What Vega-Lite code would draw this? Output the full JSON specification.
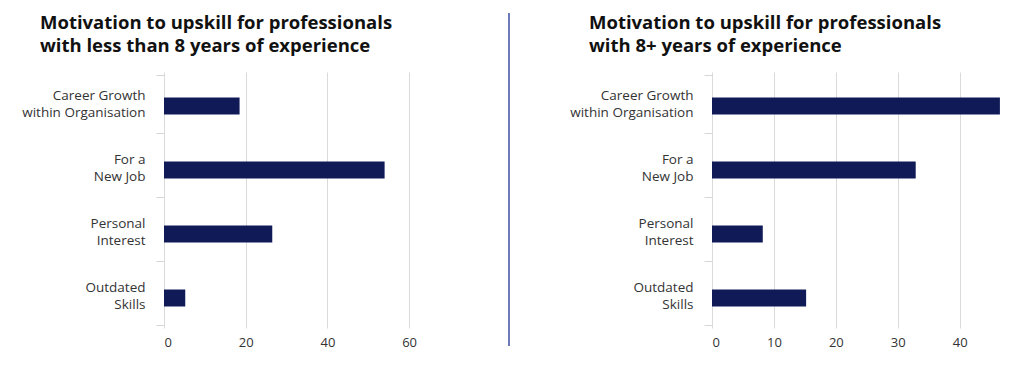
{
  "$schema": "https://vega.github.io/schema/vega-lite/v6.json",
  "padding": {"left": 14, "top": 12, "right": 5, "bottom": 5},
  "background": "white",
  "spacing": 9,
  "config": {
    "view": {"stroke": null},
    "title": {"font": "Open Sans", "fontSize": 18.5, "fontWeight": "bold", "color": "#111111", "lineHeight": 23, "anchor": "start", "frame": "bounds"}
  },
  "datasets": {
    "junior": [
      {"motivation": "Career Growth\nwithin Organisation", "percent": 18.5},
      {"motivation": "For a\nNew Job", "percent": 54},
      {"motivation": "Personal\nInterest", "percent": 26.5},
      {"motivation": "Outdated\nSkills", "percent": 5.2}
    ],
    "senior": [
      {"motivation": "Career Growth\nwithin Organisation", "percent": 46.5},
      {"motivation": "For a\nNew Job", "percent": 32.9},
      {"motivation": "Personal\nInterest", "percent": 8.2},
      {"motivation": "Outdated\nSkills", "percent": 15.2}
    ],
    "divider": [{"line": "divider"}]
  },
  "hconcat": [
    {
      "title": {"text": ["Motivation to upskill for professionals", "with less than 8 years of experience"], "dx": 26, "offset": 10},
      "data": {"name": "junior"},
      "width": 335,
      "height": 256,
      "mark": {"type": "bar", "size": 17, "color": "#0f1a57", "yOffset": 2},
      "encoding": {
        "y": {"field": "motivation", "type": "nominal", "sort": null, "title": null,
          "axis": {"domain": false, "ticks": true, "tickBand": "extent", "tickSize": 8, "tickColor": "#d6d6d6", "labelPadding": 11, "labelFont": "Open Sans", "labelFontSize": 13.5, "labelColor": "#333333", "labelLineHeight": 17, "labelOffset": -8.5, "labelExpr": "split(datum.label, '\\n')", "minExtent": 150, "maxExtent": 150}},
        "x": {"field": "percent", "type": "quantitative", "title": null, "scale": {"domain": [0, 82], "nice": false},
          "axis": {"values": [0, 20, 40, 60], "domain": false, "ticks": false, "grid": true, "gridColor": "#dadada", "labelPadding": 8, "labelFont": "Open Sans", "labelFontSize": 13, "labelColor": "#333333"}}
      }
    },
    {
      "data": {"name": "divider"},
      "width": 1,
      "height": 256,
      "mark": {"type": "rule", "color": "#3f4fa0", "strokeWidth": 1.5},
      "encoding": {"x": {"value": 0}, "y": {"value": -59}, "y2": {"value": 274}}
    },
    {
      "title": {"text": ["Motivation to upskill for professionals", "with 8+ years of experience"], "dx": 70, "offset": 10},
      "data": {"name": "senior"},
      "width": 291,
      "height": 256,
      "mark": {"type": "bar", "size": 17, "color": "#0f1a57", "yOffset": 2},
      "encoding": {
        "y": {"field": "motivation", "type": "nominal", "sort": null, "title": null,
          "axis": {"domain": false, "ticks": true, "tickBand": "extent", "tickSize": 8, "tickColor": "#d6d6d6", "labelPadding": 11, "labelFont": "Open Sans", "labelFontSize": 13.5, "labelColor": "#333333", "labelLineHeight": 17, "labelOffset": -8.5, "labelExpr": "split(datum.label, '\\n')", "minExtent": 193, "maxExtent": 193}},
        "x": {"field": "percent", "type": "quantitative", "title": null, "scale": {"domain": [0, 47], "nice": false},
          "axis": {"values": [0, 10, 20, 30, 40], "domain": false, "ticks": false, "grid": true, "gridColor": "#dadada", "labelPadding": 8, "labelFont": "Open Sans", "labelFontSize": 13, "labelColor": "#333333"}}
      }
    }
  ]
}
